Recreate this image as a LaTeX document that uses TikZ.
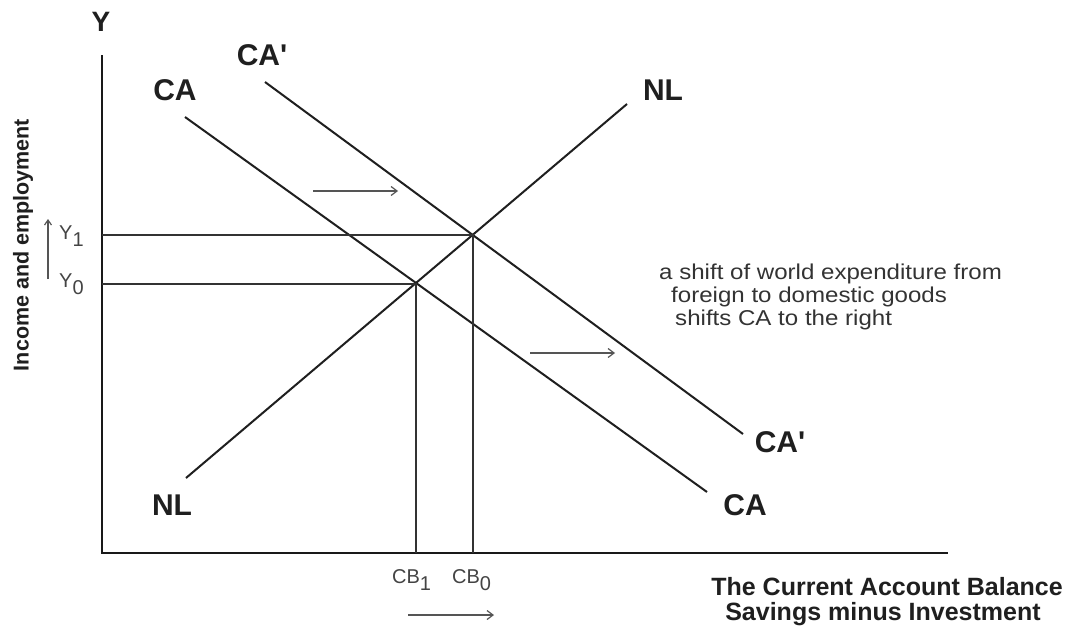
\documentclass[tikz,border=0pt]{standalone}
\usepackage{fontspec}
\setmainfont{Liberation Sans}
\newfontfamily\labfont{Liberation Sans}[Ligatures=TeXOff]
\usetikzlibrary{arrows.meta}
\definecolor{txtgray}{HTML}{444444}
\definecolor{arrgray}{HTML}{555555}
\begin{document}
\begin{tikzpicture}[x=1pt,y=-1pt,
  axis/.style={line width=2.4pt,draw=black!90},
  curve/.style={line width=2pt,draw=black!88},
  guide/.style={line width=1.1pt,draw=black!80},
  shiftarrow/.style={line width=1.2pt,draw=arrgray,-{Straight Barb[length=6pt,width=9pt]}},
  biglab/.style={font=\labfont\fontsize{30}{34}\selectfont\bfseries,text=black!88,inner sep=0pt},
  axlab/.style={font=\fontsize{25}{29}\selectfont\bfseries,text=black!88,inner sep=0pt},
  smalllab/.style={font=\fontsize{20}{24}\selectfont,text=txtgray,inner sep=0pt},
  note/.style={font=\fontsize{21.5}{25}\selectfont,text=black!80,inner sep=0pt,anchor=base west,xscale=1.12}]
\useasboundingbox (0,0) rectangle (1066,632);
\fill[white] (0,0) rectangle (1066,632);
% axes
\coordinate (O) at (102,553);
\coordinate (Ytop) at (102,55);
\coordinate (Xend) at (948,553);
\draw[axis] (Ytop) -- (O) -- (Xend);
\node[font=\fontsize{28}{32}\selectfont\bfseries,text=black!88,inner sep=0pt] (ylab) at (101,22) {Y};
% curves
\coordinate (CAa) at (185,117);
\coordinate (CAb) at (707,492);
\coordinate (CApa) at (265,82);
\coordinate (CApb) at (743,434);
\coordinate (NLa) at (186,478);
\coordinate (NLb) at (627,104);
\draw[curve] (CAa) -- (CAb);
\draw[curve] (CApa) -- (CApb);
\draw[curve] (NLa) -- (NLb);
% intersections
\coordinate (E0) at (416,284);
\coordinate (E1) at (473,235);
\coordinate (Y1a) at (102,235);
\coordinate (Y0a) at (102,284);
\coordinate (X0a) at (473,553);
\coordinate (X1a) at (416,553);
\draw[guide] (Y1a) -- (E1) -- (X0a);
\draw[guide] (Y0a) -- (E0) -- (X1a);
% curve labels
\node[biglab] (caTop) at (175,90) {CA};
\node[biglab] (capTop) at (262,55) {CA'};
\node[biglab] (nlTop) at (663,90) {NL};
\node[biglab] (nlBot) at (172,505) {NL};
\node[biglab] (capBot) at (780,442) {CA'};
\node[biglab] (caBot) at (745,505) {CA};
% shift arrows
\coordinate (s1a) at (313,191);
\coordinate (s1b) at (398,191);
\coordinate (s2a) at (530,353);
\coordinate (s2b) at (615,353);
\draw[shiftarrow] (s1a) -- (s1b);
\draw[shiftarrow] (s2a) -- (s2b);
% note
\node[note] (n1) at (659,279) {a shift of world expenditure from};
\node[note] (n2) at (671,302) {foreign to domestic goods};
\node[note] (n3) at (675,325) {shifts CA to the right};
% y labels
\node[smalllab,anchor=west] (y1) at (59,236) {Y\textsubscript{\fontsize{20}{24}\selectfont 1}};
\node[smalllab,anchor=west] (y0) at (59,284) {Y\textsubscript{\fontsize{20}{24}\selectfont 0}};
\coordinate (ua) at (48,279);
\coordinate (ub) at (48,219);
\draw[line width=1.2pt,draw=arrgray,-{Straight Barb[length=5pt,width=7pt]}] (ua) -- (ub);
\node[font=\fontsize{21.5}{25}\selectfont\bfseries,text=black!88,inner sep=0pt,rotate=90] (ylabel) at (23,245) {Income and employment};
% x labels
\node[smalllab,anchor=west] (cb1) at (392,580) {CB\textsubscript{\fontsize{20}{24}\selectfont 1}};
\node[smalllab,anchor=west] (cb0) at (452,580) {CB\textsubscript{\fontsize{20}{24}\selectfont 0}};
\coordinate (ca1) at (408,615);
\coordinate (ca2) at (494,615);
\draw[line width=1.2pt,draw=arrgray,-{Straight Barb[length=6pt,width=9pt]}] (ca1) -- (ca2);
\node[axlab,anchor=east] (xl1) at (1063,587) {The Current Account Balance};
\node[axlab] (xl2) at (883,614) {Savings minus Investment};
\end{tikzpicture}
\end{document}
